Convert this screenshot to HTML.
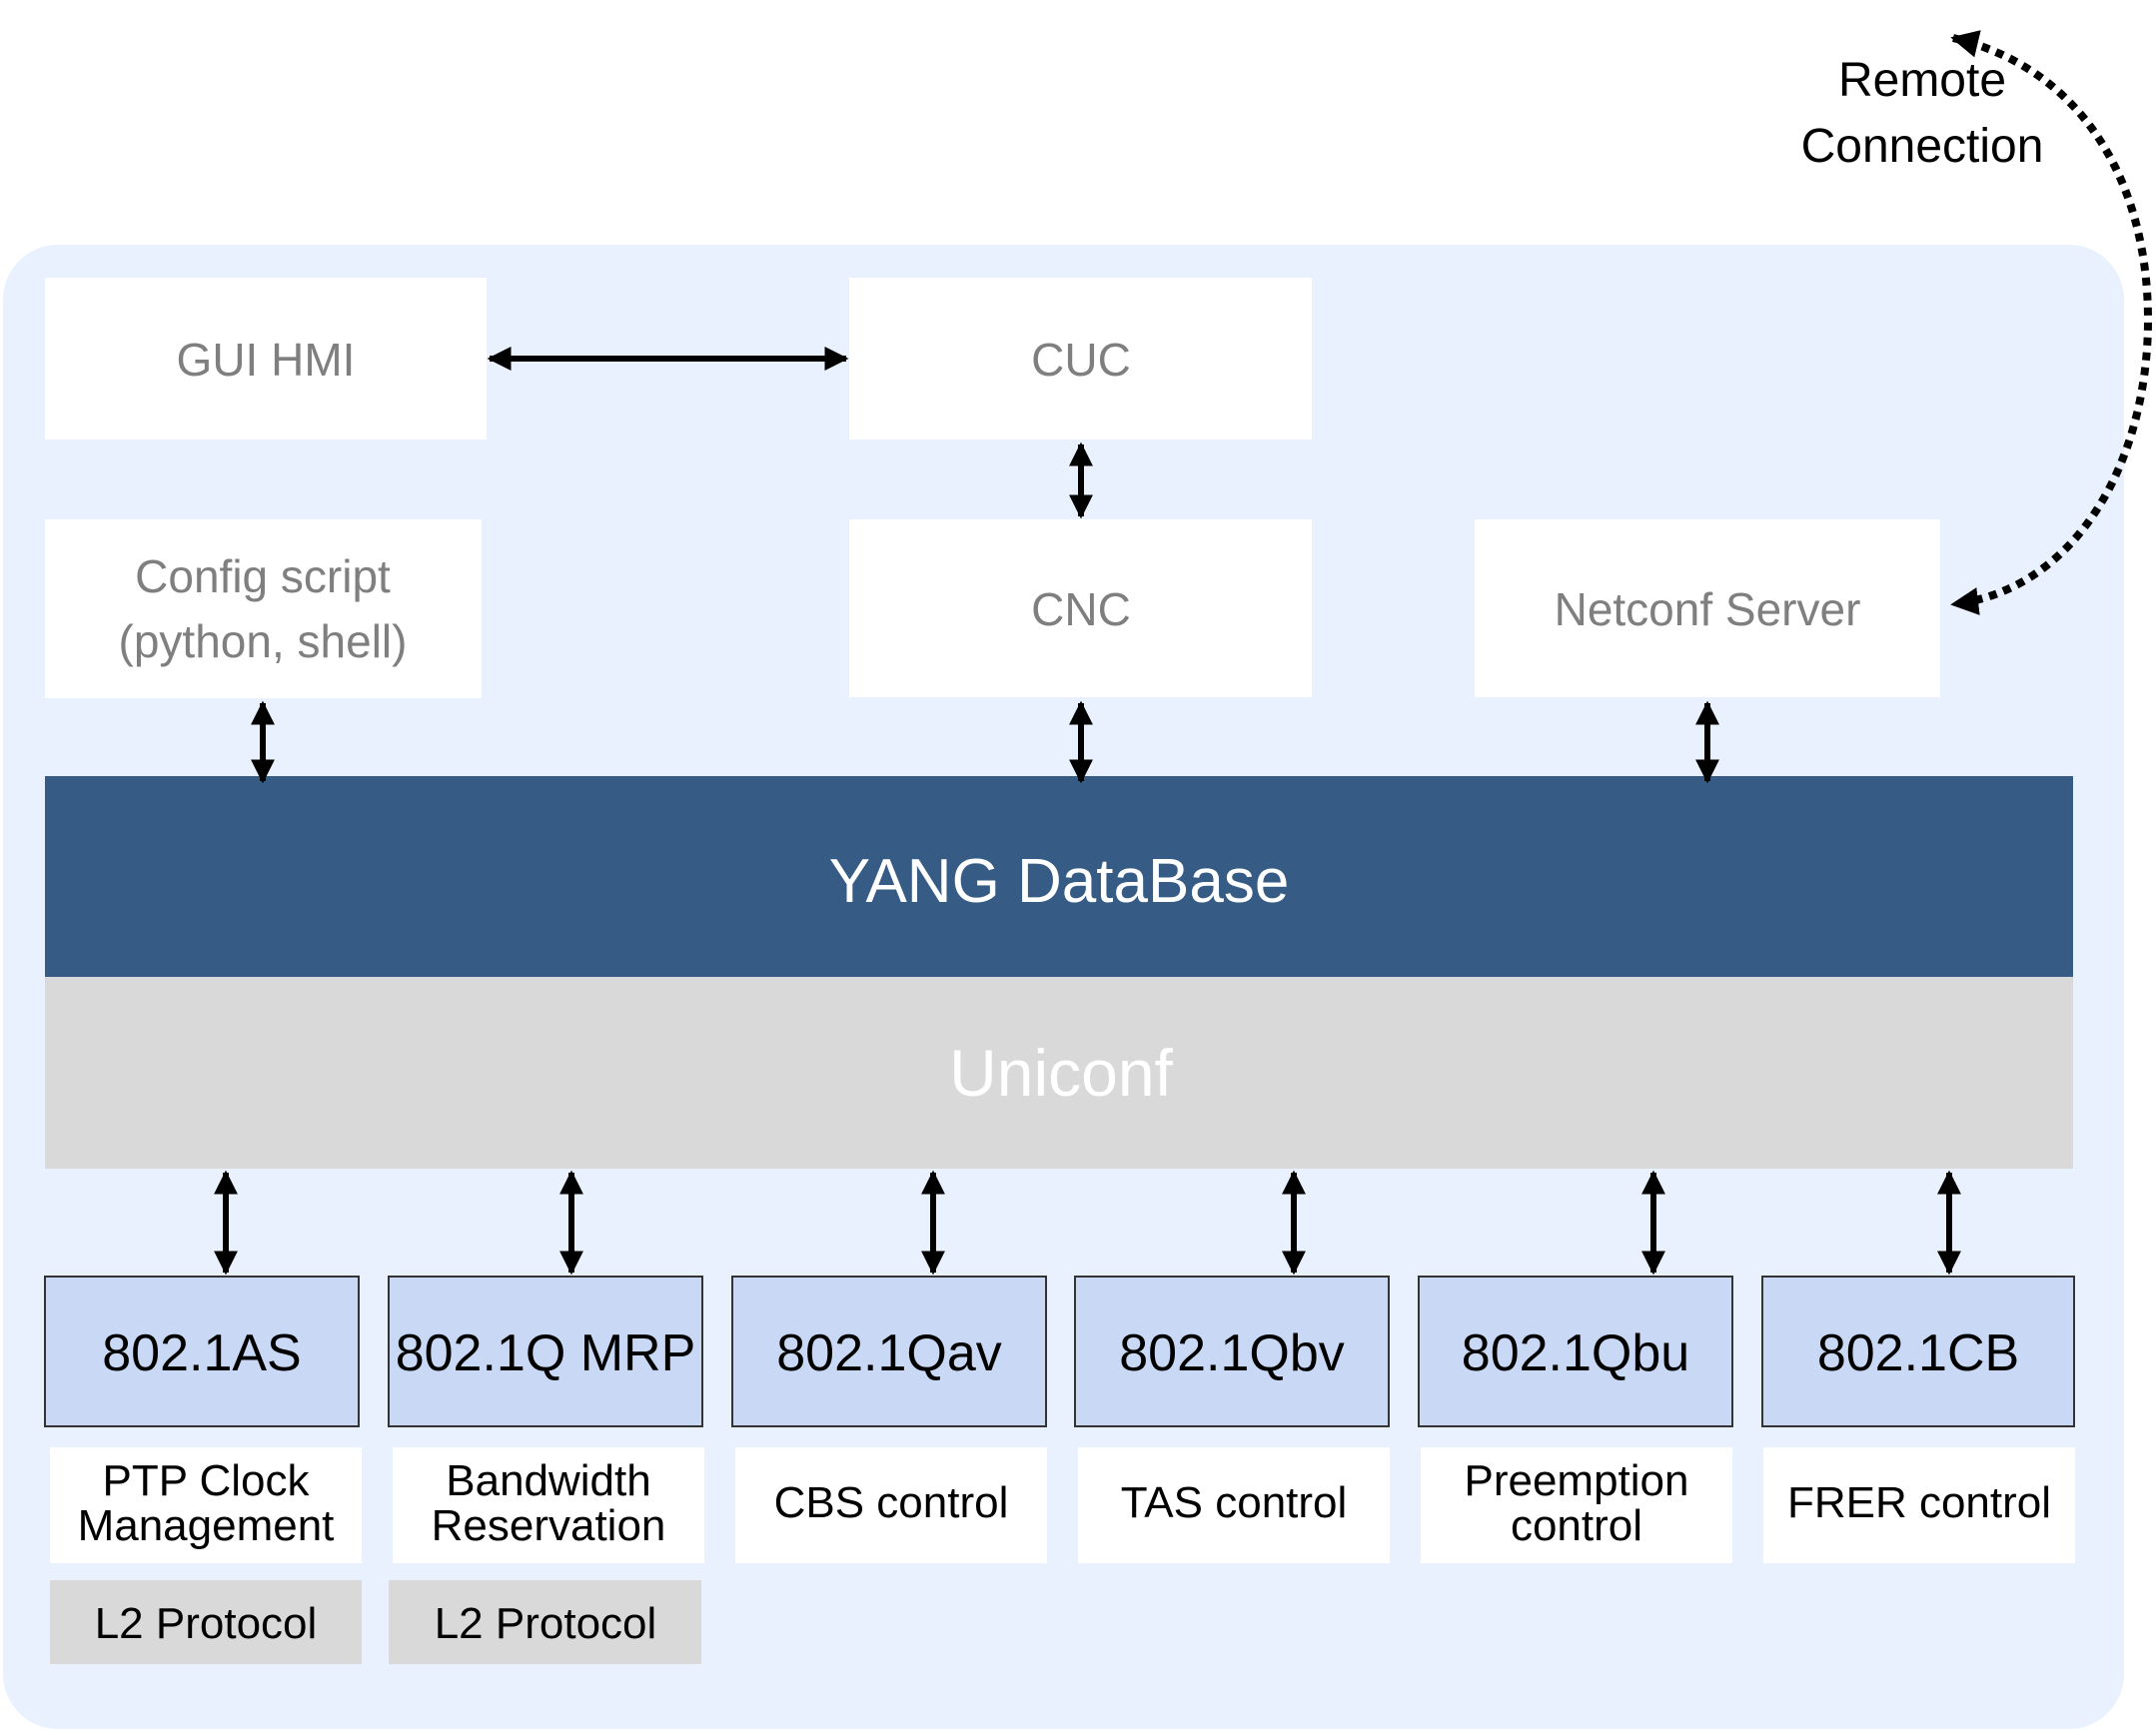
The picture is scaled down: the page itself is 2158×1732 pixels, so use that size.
<!DOCTYPE html>
<html><head><meta charset="utf-8"><style>
html,body{margin:0;padding:0;background:#fff;}
svg{display:block;}
text{font-family:"Liberation Sans",sans-serif;}
</style></head><body>
<svg width="2158" height="1732" viewBox="0 0 2158 1732" xmlns="http://www.w3.org/2000/svg">
<defs>
<marker id="a" viewBox="0 0 10 10" refX="9" refY="5" markerWidth="4" markerHeight="4" orient="auto-start-reverse"><path d="M0,0 L10,5 L0,10 z" fill="#000"/></marker>
<marker id="b" viewBox="0 0 10 10" refX="9" refY="5" markerWidth="3.5" markerHeight="3.5" orient="auto-start-reverse"><path d="M0,0 L10,5 L0,10 z" fill="#000"/></marker>
</defs>
<rect x="3" y="245" width="2123" height="1486" rx="55" fill="#e8f1fd"/>
<g fill="#fff">
<rect x="45" y="278" width="442" height="162"/>
<rect x="850" y="278" width="463" height="162"/>
<rect x="45" y="520" width="437" height="179"/>
<rect x="850" y="520" width="463" height="178"/>
<rect x="1476" y="520" width="466" height="178"/>
</g>
<g fill="#7f7f7f" font-size="46" text-anchor="middle">
<text x="266" y="376">GUI HMI</text>
<text x="1082" y="376">CUC</text>
<text x="263" y="593">Config script</text>
<text x="263" y="658">(python, shell)</text>
<text x="1082" y="626">CNC</text>
<text x="1709" y="626">Netconf Server</text>
</g>
<rect x="45" y="777" width="2030" height="201" fill="#365c85"/>
<text x="1060" y="903" font-size="62" fill="#fff" text-anchor="middle">YANG DataBase</text>
<rect x="45" y="978" width="2030" height="192" fill="#d9d9d9"/>
<text x="1062" y="1097" font-size="66" fill="#fff" text-anchor="middle">Uniconf</text>
<g stroke="#000" stroke-width="6" marker-start="url(#a)" marker-end="url(#a)">
<line x1="490" y1="359" x2="847" y2="359"/>
<line x1="1082" y1="445" x2="1082" y2="517"/>
<line x1="263" y1="704" x2="263" y2="782"/>
<line x1="1082" y1="704" x2="1082" y2="782"/>
<line x1="1709" y1="704" x2="1709" y2="782"/>
<line x1="226" y1="1174" x2="226" y2="1274"/>
<line x1="572" y1="1174" x2="572" y2="1274"/>
<line x1="934" y1="1174" x2="934" y2="1274"/>
<line x1="1295" y1="1174" x2="1295" y2="1274"/>
<line x1="1655" y1="1174" x2="1655" y2="1274"/>
<line x1="1951" y1="1174" x2="1951" y2="1274"/>
</g>
<g fill="#c9d9f5" stroke="#333" stroke-width="2">
<rect x="45" y="1278" width="314" height="150"/>
<rect x="389" y="1278" width="314" height="150"/>
<rect x="733" y="1278" width="314" height="150"/>
<rect x="1076" y="1278" width="314" height="150"/>
<rect x="1420" y="1278" width="314" height="150"/>
<rect x="1764" y="1278" width="312" height="150"/>
</g>
<g font-size="52" text-anchor="middle" fill="#000">
<text x="202" y="1372">802.1AS</text>
<text x="546" y="1372">802.1Q MRP</text>
<text x="890" y="1372">802.1Qav</text>
<text x="1233" y="1372">802.1Qbv</text>
<text x="1577" y="1372">802.1Qbu</text>
<text x="1920" y="1372">802.1CB</text>
</g>
<g fill="#fff">
<rect x="50" y="1449" width="312" height="116"/>
<rect x="393" y="1449" width="312" height="116"/>
<rect x="736" y="1449" width="312" height="116"/>
<rect x="1079" y="1449" width="312" height="116"/>
<rect x="1422" y="1449" width="312" height="116"/>
<rect x="1765" y="1449" width="312" height="116"/>
</g>
<g fill="#d9d9d9">
<rect x="50" y="1582" width="312" height="84"/>
<rect x="389" y="1582" width="313" height="84"/>
</g>
<g font-size="44" text-anchor="middle" fill="#000">
<text x="206" y="1497">PTP Clock</text>
<text x="206" y="1542">Management</text>
<text x="549" y="1497">Bandwidth</text>
<text x="549" y="1542">Reservation</text>
<text x="892" y="1519">CBS control</text>
<text x="1235" y="1519">TAS control</text>
<text x="1578" y="1497">Preemption</text>
<text x="1578" y="1542">control</text>
<text x="1921" y="1519">FRER control</text>
<text x="206" y="1640">L2 Protocol</text>
<text x="546" y="1640">L2 Protocol</text>
<text x="1924" y="96" font-size="48">Remote</text>
<text x="1924" y="162" font-size="48">Connection</text>
</g>
<path d="M1955,38 C2090,70 2150,190 2150,320 C2150,460 2080,590 1955,605" fill="none" stroke="#000" stroke-width="8" stroke-dasharray="8,7" marker-start="url(#b)" marker-end="url(#b)"/>
</svg>
</body></html>
